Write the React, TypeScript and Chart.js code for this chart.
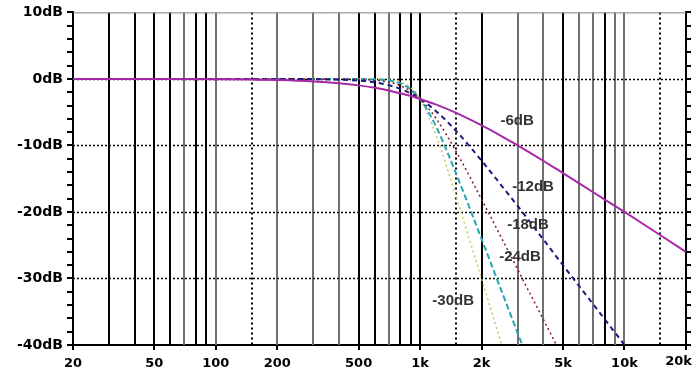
import React, { useEffect, useRef } from "react";
import { Chart, registerables } from "chart.js";

Chart.register(...registerables);

const freqs = [20, 50, 100, 150, 200, 300, 400, 500, 600, 700, 800, 900, 1000, 1200, 1500, 2000, 2510, 3000, 3160, 4000, 4640, 5000, 7000, 10000, 15000, 20000];

const slope6 = [0, -0.01, -0.04, -0.1, -0.17, -0.37, -0.64, -0.97, -1.34, -1.73, -2.15, -2.56, -3.01, -3.87, -5.11, -6.99, -8.63, -10.0, -10.4, -12.3, -13.53, -14.15, -17.0, -20.0, -23.5, -26.0];
const slope12 = [0, 0, 0, 0, -0.01, -0.04, -0.11, -0.26, -0.53, -0.93, -1.49, -2.19, -3.01, -4.88, -7.83, -12.3, -16.1, -19.1, -20.0, -24.1, -26.7, -28.0, -33.8, -40.0, null, null];
const slope18 = [0, 0, 0, 0, 0, 0, -0.02, -0.07, -0.2, -0.48, -1.01, -1.85, -3.01, -6.0, -10.93, -18.13, -24.0, -28.6, -30.0, -36.1, -40.0, null, null, null, null, null];
const slope24 = [0, 0, 0, 0, 0, 0, 0, -0.02, -0.07, -0.24, -0.67, -1.56, -3.01, -7.24, -14.25, -24.1, -32.0, -38.2, -40.0, null, null, null, null, null, null, null];
const slope30 = [0, 0, 0, 0, 0, 0, 0, 0, -0.03, -0.12, -0.44, -1.3, -3.01, -8.57, -17.7, -30.1, -40.0, null, null, null, null, null, null, null, null, null];

const xTickValues = [20, 50, 100, 200, 500, 1000, 2000, 5000, 10000, 20000];
const xTickLabels = ["20", "50", "100", "200", "500", "1k", "2k", "5k", "10k", "20k"];
const yTickValues = [10, 0, -10, -20, -30, -40];
const yTickLabels = ["10dB", "0dB", "-10dB", "-20dB", "-30dB", "-40dB"];

const gridDark = [30, 40, 50, 60, 80, 90, 500, 600, 800, 900, 1000, 2000, 5000, 8000];
const gridGray = [70, 100, 200, 300, 400, 700, 3000, 4000, 6000, 7000, 9000, 10000];
const gridDotted = [150, 1500, 15000];
const hGridDotted = [0, -10, -20, -30];

const curveLabelTexts = ["-6dB", "-12dB", "-18dB", "-24dB", "-30dB"];
const curveLabelFreqs = [2980, 3570, 3370, 3080, 1450];
const curveLabelDbs = [-6.3, -16.2, -21.9, -26.8, -33.4];

const AXIS_FONT = "bold 13px 'DejaVu Sans', sans-serif";

const gridPlugin = {
  id: "customGrid",
  beforeDatasetsDraw(chart: any) {
    const { ctx, chartArea, scales } = chart;
    const xs = scales.x;
    const ys = scales.y;
    ctx.save();
    const vline = (f: number, color: string, w: number, dash: number[]) => {
      const px = Math.round(xs.getPixelForValue(f));
      ctx.beginPath();
      ctx.strokeStyle = color;
      ctx.lineWidth = w;
      ctx.setLineDash(dash);
      ctx.moveTo(px, chartArea.top);
      ctx.lineTo(px, chartArea.bottom);
      ctx.stroke();
    };
    gridGray.forEach((f) => vline(f, "#707070", 2, []));
    gridDark.forEach((f) => vline(f, "#000000", 2, []));
    gridDotted.forEach((f) => vline(f, "#000000", 2, [2, 3]));
    hGridDotted.forEach((v) => {
      const py = Math.round(ys.getPixelForValue(v)) + 0.5;
      ctx.beginPath();
      ctx.strokeStyle = "#000000";
      ctx.lineWidth = 1.5;
      ctx.setLineDash([2, 2]);
      ctx.moveTo(chartArea.left, py);
      ctx.lineTo(chartArea.right, py);
      ctx.stroke();
    });
    ctx.setLineDash([]);
    ctx.beginPath();
    ctx.strokeStyle = "#808080";
    ctx.lineWidth = 1;
    ctx.moveTo(chartArea.left, chartArea.top + 0.5);
    ctx.lineTo(chartArea.right, chartArea.top + 0.5);
    ctx.stroke();
    ctx.restore();
  },
  afterDatasetsDraw(chart: any) {
    const { ctx, scales, chartArea } = chart;
    ctx.save();
    ctx.font = "bold 15px 'Liberation Sans', Arial, sans-serif";
    ctx.fillStyle = "#333333";
    ctx.textAlign = "center";
    ctx.textBaseline = "middle";
    curveLabelTexts.forEach((t, i) => {
      ctx.fillText(t, scales.x.getPixelForValue(curveLabelFreqs[i]), scales.y.getPixelForValue(curveLabelDbs[i]));
    });
    // last x tick label, kept inside the canvas
    const lastIdx = xTickValues.length - 1;
    ctx.font = AXIS_FONT;
    ctx.fillStyle = "#000";
    ctx.textAlign = "right";
    ctx.textBaseline = "middle";
    ctx.fillText(xTickLabels[lastIdx], Math.min(scales.x.getPixelForValue(xTickValues[lastIdx]) + 6, 699), chartArea.bottom + 17);
    ctx.restore();
  },
};

export default function App() {
  const ref = useRef<HTMLCanvasElement>(null);
  useEffect(() => {
    if (!ref.current) return;
    const mk = (arr: (number | null)[]) => freqs.map((f, i) => ({ x: f, y: arr[i] }));
    const base = { pointRadius: 0, fill: false, cubicInterpolationMode: "monotone" as const, spanGaps: false };
    const chart = new Chart(ref.current, {
      type: "line",
      data: {
        datasets: [
          { ...base, label: "-6dB", data: mk(slope6), borderColor: "#a828a8", borderWidth: 2 },
          { ...base, label: "-12dB", data: mk(slope12), borderColor: "#1a1a80", borderWidth: 2, borderDash: [5, 4] },
          { ...base, label: "-18dB", data: mk(slope18), borderColor: "#8a1a2a", borderWidth: 1.5, borderDash: [2, 3] },
          { ...base, label: "-24dB", data: mk(slope24), borderColor: "#22a8b4", borderWidth: 2, borderDash: [6, 3] },
          { ...base, label: "-30dB", data: mk(slope30), borderColor: "#c8c860", borderWidth: 1.5, borderDash: [2, 3] },
        ],
      } as any,
      options: {
        animation: false,
        responsive: false,
        layout: { padding: { top: 11, left: 0, right: 0, bottom: 0 } },
        plugins: { legend: { display: false }, tooltip: { enabled: false } },
        scales: {
          x: {
            type: "logarithmic",
            min: 20,
            max: 20000,
            afterBuildTicks: (s: any) => {
              s.ticks = xTickValues.map((v) => ({ value: v }));
            },
            afterFit: (s: any) => {
              s.height = 36;
              s.paddingLeft = 0;
              s.paddingRight = 0;
            },
            ticks: {
              autoSkip: false,
              maxRotation: 0,
              padding: 6,
              color: "#000",
              font: { family: "'DejaVu Sans', sans-serif", size: 13, weight: "bold" },
              callback: (v: any) => {
                const i = xTickValues.indexOf(Number(v));
                return i >= 0 && i < xTickValues.length - 1 ? xTickLabels[i] : "";
              },
            },
            grid: { display: true, drawOnChartArea: false, drawTicks: true, tickLength: 5, color: "#000", lineWidth: 2 },
            border: { display: true, color: "#000", width: 2 },
          },
          y: {
            type: "linear",
            position: "left",
            min: -40,
            max: 10,
            afterFit: (s: any) => {
              s.width = 73;
            },
            ticks: {
              stepSize: 2,
              autoSkip: false,
              padding: 4,
              color: "#000",
              font: { family: "'DejaVu Sans', sans-serif", size: 14, weight: "bold" },
              callback: (v: any) => {
                const i = yTickValues.indexOf(Number(v));
                return i >= 0 ? yTickLabels[i] : "";
              },
            },
            grid: { display: true, drawOnChartArea: false, drawTicks: true, tickLength: 6, color: "#000", lineWidth: 2 },
            border: { display: true, color: "#000", width: 2 },
          },
          y2: {
            type: "linear",
            position: "right",
            min: -40,
            max: 10,
            afterFit: (s: any) => {
              s.width = 14;
            },
            ticks: { stepSize: 2, autoSkip: false, display: true, callback: () => "", padding: 0 },
            grid: { display: true, drawOnChartArea: false, drawTicks: true, tickLength: 5, color: "#000", lineWidth: 2 },
            border: { display: true, color: "#000", width: 2 },
          },
        },
      } as any,
      plugins: [gridPlugin],
    });
    return () => chart.destroy();
  }, []);
  return (
    <div style={{ position: "fixed", left: 0, top: 0, width: 700, height: 381, background: "#fff" }}>
      <canvas ref={ref} width={700} height={381} style={{ display: "block" }} />
    </div>
  );
}
